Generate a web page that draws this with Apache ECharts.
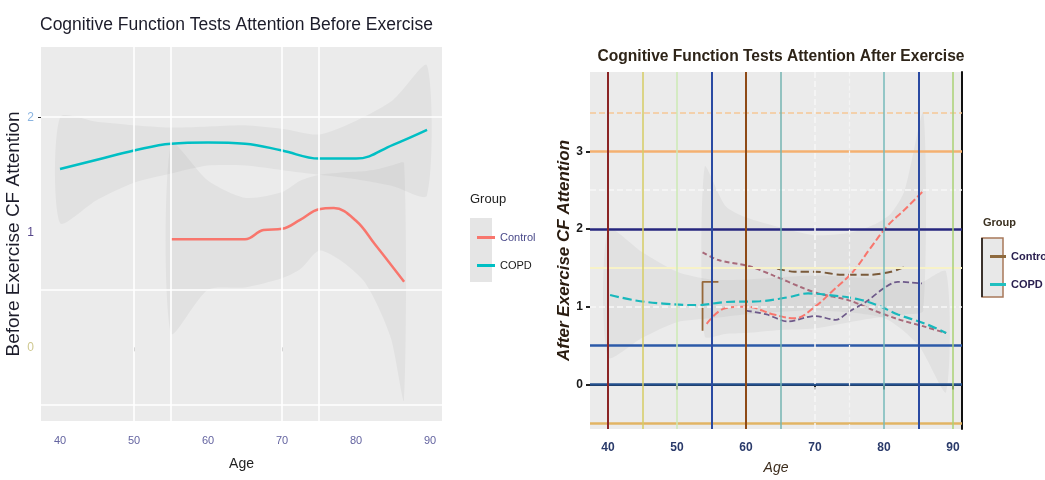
<!DOCTYPE html>
<html>
<head>
<meta charset="utf-8">
<script src="https://cdn.jsdelivr.net/npm/echarts@6/dist/echarts.min.js"></script>
<style>
  html, body { margin: 0; padding: 0; background: #ffffff; }
  #chart { width: 1045px; height: 480px; }
</style>
</head>
<body>
<div id="chart"></div>
<script>
// ---- Before exercise: loess fits by group ----
const ageCopdBefore = [40, 45, 50, 55, 60, 65, 70, 75, 80, 85, 89.6];
const copdBefore    = [1.55, 1.63, 1.71, 1.77, 1.78, 1.77, 1.71, 1.64, 1.64, 1.76, 1.89];
const ageCtrlBefore = [55, 60, 65, 67.5, 70, 72.5, 75, 77, 80, 82.5, 86.5];
const ctrlBefore    = [0.94, 0.94, 0.94, 1.02, 1.03, 1.11, 1.20, 1.21, 1.10, 0.90, 0.57];

// confidence bands (before)
const ageCopdBandBefore = [40, 45, 50, 55, 60, 65, 70, 75, 80, 85, 89.6];
const copdLoBefore      = [1.08, 1.28, 1.43, 1.51, 1.58, 1.58, 1.54, 1.50, 1.46, 1.40, 1.32];
const copdHiBefore      = [2.00, 1.96, 1.93, 1.91, 1.92, 1.93, 1.90, 1.85, 1.97, 2.15, 2.45];
const ageCtrlBandBefore = [55, 60, 65, 70, 72.5, 75, 78, 81, 83, 84.8, 86.5];
const ctrlLoBefore      = [0.12, 0.50, 0.52, 0.60, 0.68, 0.84, 0.75, 0.58, 0.35, 0.06, -0.46];
const ctrlHiBefore      = [1.77, 1.45, 1.30, 1.35, 1.45, 1.50, 1.52, 1.53, 1.55, 1.58, 1.60];

// ---- After exercise ----
const ageCopdAfter = [40.3, 44, 48, 53, 57, 62, 66, 69, 72, 76, 79, 82, 86, 89];
const copdAfter    = [1.15, 1.08, 1.04, 1.02, 1.06, 1.07, 1.12, 1.17, 1.15, 1.10, 1.02, 0.90, 0.78, 0.66];
const ageCtrlAfter = [54.3, 57, 60, 64, 67, 70, 72.5, 75.5, 78, 80.5, 83, 85.7];
const ctrlAfter    = [0.78, 0.98, 1.00, 0.90, 0.85, 1.00, 1.20, 1.45, 1.75, 2.04, 2.25, 2.49];

// dashed interval edges (after)
const ageEdgeUpper = [53.7, 56, 60.5, 64, 68, 70.5, 75, 78, 82, 86, 89];
const edgeUpper    = [1.70, 1.60, 1.52, 1.40, 1.25, 1.17, 1.08, 0.97, 0.84, 0.74, 0.66];
const ageEdgeLower = [60, 63, 66, 70, 73, 75, 77.5, 80, 82, 85.5];
const edgeLower    = [0.95, 0.90, 0.81, 0.88, 0.83, 0.94, 1.07, 1.24, 1.32, 1.30];
const ageEdgeRight = [64.5, 67, 70, 74, 78, 81, 83.3];
const edgeRight    = [1.49, 1.45, 1.45, 1.41, 1.41, 1.45, 1.52];
const ageBracket   = [53.7, 53.7, 56];
const bracket      = [0.69, 1.32, 1.32];

// confidence bands (after)
const ageCopdBandAfter = [40, 45, 50, 55, 60, 70, 80, 85, 89];
const copdLoAfter      = [0.35, 0.60, 0.80, 0.85, 0.90, 0.95, 0.85, 0.50, -0.10];
const copdHiAfter      = [2.00, 1.70, 1.45, 1.35, 1.35, 1.40, 1.35, 1.30, 1.45];
const ageCtrlBandAfter = [54, 57, 60, 65, 70, 75, 78.4, 81, 83, 85.7];
const ctrlLoAfter      = [0.62, 0.65, 0.66, 0.70, 0.72, 0.80, 0.85, 0.88, 0.90, 0.95];
const ctrlHiAfter      = [2.80, 2.30, 2.15, 2.02, 1.92, 1.95, 2.05, 2.20, 2.50, 3.50];

// axis ticks
const ageTicks = [40, 50, 60, 70, 80, 90];
const yTicksBefore = [0, 1, 2];
const yTicksAfter = [0, 1, 2, 3];

const FONT = '"Liberation Sans", Arial, sans-serif';
const pairs = (xs, ys) => xs.map((x, i) => [x, ys[i]]);

function bandSeries(ages, lo, hi, xi, yi, fill) {
  return {
    type: 'custom',
    xAxisIndex: xi, yAxisIndex: yi,
    silent: true, z: 2,
    data: ages.map((a, i) => [a, lo[i], hi[i]]),
    encode: { x: 0, y: [1, 2] },
    renderItem: function (params, api) {
      if (params.dataIndex !== 0) return;
      const top = ages.map((a, i) => api.coord([a, hi[i]]));
      const bot = ages.map((a, i) => api.coord([a, lo[i]])).reverse();
      return {
        type: 'polygon',
        shape: { points: top.concat(bot), smooth: 0.25 },
        style: { fill: fill }
      };
    }
  };
}

function gridLines(xi, yi, items) {
  return {
    type: 'line', xAxisIndex: xi, yAxisIndex: yi, data: [], z: 1, silent: true,
    markLine: {
      silent: true, symbol: 'none', label: { show: false },
      animation: false,
      data: items
    }
  };
}

const white = { color: '#ffffff', width: 1.6, type: 'solid' };
const colored = (c, w) => ({ color: c, width: w || 2, type: 'solid' });
const BAND = 'rgba(0,0,0,0.04)';

const chart = echarts.init(document.getElementById('chart'));
chart.setOption({
  animation: false,
  textStyle: { fontFamily: FONT },
  title: [
    {
      text: 'Cognitive Function Tests Attention Before Exercise',
      left: 35, top: 11,
      textStyle: { fontSize: 17.5, fontWeight: 'normal', color: '#1c1c2a', fontFamily: FONT }
    },
    {
      text: 'Cognitive Function Tests Attention After Exercise',
      left: 776, top: 44, textAlign: 'center',
      textStyle: { fontSize: 15.6, fontWeight: 'bold', color: '#2e2418', fontFamily: FONT }
    }
  ],
  grid: [
    { left: 41, top: 47, width: 401, height: 374, show: true, backgroundColor: '#EBEBEB', borderWidth: 0 },
    { left: 590, top: 72, width: 372, height: 360, show: true, backgroundColor: '#EBEBEB', borderWidth: 0 }
  ],
  xAxis: [
    {
      gridIndex: 0, type: 'value', min: 37.43, max: 91.62,
      name: 'Age', nameLocation: 'middle', nameGap: 36,
      nameTextStyle: { fontSize: 14, color: '#222', fontFamily: FONT },
      axisLine: { show: false },
      axisTick: { show: true, customValues: [50, 70], length: 4, lineStyle: { color: '#333' } },
      axisLabel: { customValues: ageTicks, margin: 14, fontSize: 11, color: '#6464a0' },
      splitLine: { show: false }
    },
    {
      gridIndex: 1, type: 'value', min: 37.39, max: 91.3,
      name: 'Age', nameLocation: 'middle', nameGap: 32,
      nameTextStyle: { fontSize: 14, color: '#3a2a1a', fontStyle: 'italic', fontFamily: FONT },
      axisLine: { show: false },
      axisTick: { show: true, customValues: ageTicks, length: 5, lineStyle: { color: '#222', width: 2 } },
      axisLabel: { customValues: ageTicks, margin: 13, fontSize: 12, fontWeight: 'bold', color: '#2a3a6a' },
      splitLine: { show: false }
    },
    {
      gridIndex: 1, type: 'value', min: 37.39, max: 91.3, position: 'top',
      axisLine: { show: true, lineStyle: { color: '#111', width: 2 } },
      axisTick: { show: false }, axisLabel: { show: false }, splitLine: { show: false }
    }
  ],
  yAxis: [
    {
      gridIndex: 0, type: 'value', min: -0.64, max: 2.61,
      name: 'Before Exercise CF Attention', nameLocation: 'middle', nameGap: 16,
      nameTextStyle: { fontSize: 19, color: '#1c1c2a', fontFamily: FONT },
      axisLine: { show: false },
      axisTick: { show: true, customValues: [2], length: 3, lineStyle: { color: '#333' } },
      axisLabel: {
        customValues: yTicksBefore, margin: 7, fontSize: 12,
        formatter: v => ({ 0: '{c|0}', 1: '{b|1}', 2: '{a|2}' })[v],
        rich: {
          a: { color: '#8ab4e0', fontSize: 12 },
          b: { color: '#55458a', fontSize: 12 },
          c: { color: '#cfc890', fontSize: 12 }
        }
      },
      splitLine: { show: false }
    },
    {
      gridIndex: 1, type: 'value', min: -0.574, max: 4.02,
      name: 'After Exercise CF Attention', nameLocation: 'middle', nameGap: 16,
      nameTextStyle: { fontSize: 17, fontWeight: 'bold', fontStyle: 'italic', color: '#2a1c10', fontFamily: FONT },
      axisLine: { show: false },
      axisTick: { show: true, customValues: yTicksAfter, length: 4, lineStyle: { color: '#222', width: 2 } },
      axisLabel: { customValues: yTicksAfter, margin: 7, fontSize: 12, fontWeight: 'bold', color: '#1a1a1a' },
      splitLine: { show: false }
    },
    {
      gridIndex: 1, type: 'value', min: -0.574, max: 4.02, position: 'right',
      axisLine: { show: true, lineStyle: { color: '#111', width: 2 } },
      axisTick: { show: false }, axisLabel: { show: false }, splitLine: { show: false }
    }
  ],
  legend: [
    {
      left: 472, top: 227, orient: 'vertical', itemWidth: 18, itemHeight: 3, itemGap: 17,
      icon: 'rect', selectedMode: false,
      textStyle: { fontSize: 11, color: '#2a2a4a', fontFamily: FONT },
      data: [
        { name: 'Control', textStyle: { color: '#4a4a8a' } },
        { name: 'COPD', textStyle: { color: '#1a1a1a' } }
      ]
    },
    {
      left: 985, top: 246, orient: 'vertical', itemWidth: 16, itemHeight: 3, itemGap: 17,
      icon: 'rect', selectedMode: false,
      textStyle: { fontSize: 11, fontWeight: 'bold', color: '#2a2050', fontFamily: FONT },
      data: [
        { name: 'Control', itemStyle: { color: '#8e6a3e' } },
        { name: 'COPD', itemStyle: { color: '#20c0c0' } }
      ]
    }
  ],
  graphic: [
    { type: 'text', left: 470, top: 193, style: { text: 'Group', fontSize: 13, fill: '#222', fontFamily: FONT } },
    { type: 'rect', z: -1, shape: { x: 470, y: 218, width: 22, height: 64 }, style: { fill: '#E5E5E5' } },
    { type: 'text', left: 983, top: 217, style: { text: 'Group', fontSize: 11, fontWeight: 'bold', fill: '#3a3020', fontFamily: FONT } },
    { type: 'rect', z: -1, shape: { x: 982, y: 238, width: 21, height: 59 }, style: { fill: '#E8E8E8', stroke: '#a8785a', lineWidth: 1.5 } },
    { type: 'line', shape: { x1: 982, y1: 238, x2: 982, y2: 297 }, style: { stroke: '#111', lineWidth: 1.5 } }
  ],
  series: [
    // panel 1 grid lines
    gridLines(0, 0, [
      { yAxis: 2, lineStyle: white }, { yAxis: 0.5, lineStyle: white }, { yAxis: -0.5, lineStyle: white },
      { xAxis: 50, lineStyle: white }, { xAxis: 55, lineStyle: white },
      { xAxis: 70, lineStyle: white }, { xAxis: 75, lineStyle: white }
    ]),
    bandSeries(ageCopdBandBefore, copdLoBefore, copdHiBefore, 0, 0, BAND),
    bandSeries(ageCtrlBandBefore, ctrlLoBefore, ctrlHiBefore, 0, 0, BAND),
    {
      name: 'Control', type: 'line', xAxisIndex: 0, yAxisIndex: 0, z: 3,
      smooth: 0.4, symbol: 'none', color: '#F8766D',
      lineStyle: { width: 2.5 }, data: pairs(ageCtrlBefore, ctrlBefore)
    },
    {
      name: 'COPD', type: 'line', xAxisIndex: 0, yAxisIndex: 0, z: 3,
      smooth: 0.4, symbol: 'none', color: '#00BFC4',
      lineStyle: { width: 2.5 }, data: pairs(ageCopdBefore, copdBefore)
    },

    // panel 2 grid lines
    gridLines(1, 1, [
      { yAxis: 3.5, lineStyle: { color: '#f6c896', width: 1.5, type: 'dashed' } },
      { yAxis: 3, lineStyle: colored('#f4b070', 2.5) },
      { yAxis: 2.5, lineStyle: { color: '#f8f8f8', width: 1.5 } },
      { yAxis: 2, lineStyle: colored('#26267e', 2.5) },
      { yAxis: 1.5, lineStyle: colored('#f7f2c8', 2) },
      { yAxis: 1, lineStyle: { color: '#f8f8f8', width: 1.5 } },
      { yAxis: 0.5, lineStyle: colored('#2c5aa8', 2.5) },
      { yAxis: 0, lineStyle: colored('#24508e', 2.5) },
      { yAxis: -0.5, lineStyle: colored('#e2b464', 2.5) },
      { xAxis: 40, lineStyle: colored('#8a2424', 2) },
      { xAxis: 45, lineStyle: colored('#d6cc64', 1.5) },
      { xAxis: 50, lineStyle: colored('#cceab4', 1.5) },
      { xAxis: 55, lineStyle: colored('#2a4aa2', 2) },
      { xAxis: 60, lineStyle: colored('#8e4a16', 2) },
      { xAxis: 65, lineStyle: colored('#74b4b2', 1.5) },
      { xAxis: 70, lineStyle: { color: '#f8f8f8', width: 1.5 } },
      { xAxis: 75, lineStyle: { color: '#f4f4f4', width: 1.2 } },
      { xAxis: 80, lineStyle: colored('#76baba', 1.5) },
      { xAxis: 85, lineStyle: colored('#2a4aa2', 2) },
      { xAxis: 90, lineStyle: colored('#aad274', 1.5) }
    ]),
    bandSeries(ageCopdBandAfter, copdLoAfter, copdHiAfter, 1, 1, BAND),
    bandSeries(ageCtrlBandAfter, ctrlLoAfter, ctrlHiAfter, 1, 1, BAND),
    {
      type: 'line', xAxisIndex: 1, yAxisIndex: 1, z: 3, silent: true,
      smooth: 0.3, symbol: 'none', color: '#a86a7a',
      lineStyle: { width: 2, type: [5, 3] }, data: pairs(ageEdgeUpper, edgeUpper)
    },
    {
      type: 'line', xAxisIndex: 1, yAxisIndex: 1, z: 3, silent: true,
      smooth: 0.3, symbol: 'none', color: '#6e5a8a',
      lineStyle: { width: 1.8, type: [6, 3] }, data: pairs(ageEdgeLower, edgeLower)
    },
    {
      type: 'line', xAxisIndex: 1, yAxisIndex: 1, z: 3, silent: true,
      smooth: 0.3, symbol: 'none', color: '#7a5a3a',
      lineStyle: { width: 2, type: [8, 4] }, data: pairs(ageEdgeRight, edgeRight)
    },
    {
      type: 'line', xAxisIndex: 1, yAxisIndex: 1, z: 3, silent: true,
      symbol: 'none', color: '#96683a',
      lineStyle: { width: 1.8 }, data: pairs(ageBracket, bracket)
    },
    {
      name: 'Control', type: 'line', xAxisIndex: 1, yAxisIndex: 1, z: 4,
      smooth: 0.4, symbol: 'none', color: '#F8766D',
      lineStyle: { width: 2, type: [7, 3] }, data: pairs(ageCtrlAfter, ctrlAfter)
    },
    {
      name: 'COPD', type: 'line', xAxisIndex: 1, yAxisIndex: 1, z: 4,
      smooth: 0.4, symbol: 'none', color: '#19B8BC',
      lineStyle: { width: 2.2, type: [9, 4] }, data: pairs(ageCopdAfter, copdAfter)
    }
  ]
});
</script>
</body>
</html>
